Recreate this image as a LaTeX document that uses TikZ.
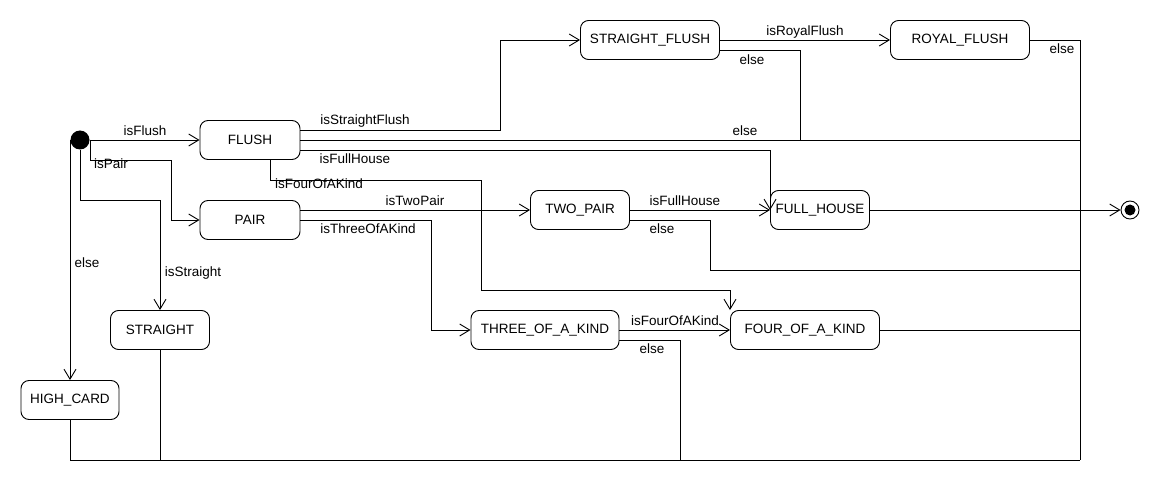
\documentclass[tikz,border=0pt]{standalone}
\usepackage{fontspec}
\setmainfont{Liberation Sans}
\usetikzlibrary{arrows.meta,calc}
\begin{document}
\begin{tikzpicture}[x=1pt,y=-1pt,
  every node/.style={font=\fontsize{13.5}{16}\selectfont},
  state/.style={draw,rounded corners=8pt,minimum height=39pt,inner sep=0pt,line width=0.9pt},
  lbl/.style={inner sep=0pt},
  conn/.style={line width=0.9pt},
  arr/.style={conn,-{Straight Barb[length=10pt,width=12pt,line width=0.9pt]}}]
\useasboundingbox (0,0) rectangle (1160,500);
\fill[white] (0,0) rectangle (1160,500);
% states
\node[circle,fill=black,minimum size=19pt,inner sep=0pt] (init) at (80,140) {};
\node[state,minimum width=100pt] (flush) at (250,140) {FLUSH};
\node[state,minimum width=100pt] (pair) at (250,220) {PAIR};
\node[state,minimum width=139pt] (sflush) at (650,40) {STRAIGHT\_FLUSH};
\node[state,minimum width=139pt] (royal) at (960,40) {ROYAL\_FLUSH};
\node[state,minimum width=99pt] (twopair) at (580,210) {TWO\_PAIR};
\node[state,minimum width=99pt] (fullhouse) at (820,210) {FULL\_HOUSE};
\node[state,minimum width=148pt] (three) at (545,330) {THREE\_OF\_A\_KIND};
\node[state,minimum width=149pt] (four) at (805,330) {FOUR\_OF\_A\_KIND};
\node[state,minimum width=99pt] (straight) at (160,330) {STRAIGHT};
\node[state,minimum width=98pt] (high) at (70,400) {HIGH\_CARD};
\node[circle,draw,line width=0.9pt,minimum size=18pt,inner sep=0pt] (final) at (1130,210) {};
\fill (final.center) circle (5.5pt);
% junction coordinates
\coordinate (busTop) at (1080,40);
\coordinate (busBot) at (1080,460);
\coordinate (busFlush) at (1080,140);
\coordinate (busTP) at (1080,270);
\coordinate (busFour) at (1080,330);
\coordinate (jSF) at (800,140);
\coordinate (jThree) at (680,460);
\coordinate (jStraight) at (160,460);
% connectors from initial
\draw[arr] (init) -- (flush);
\draw[arr] ([xshift=10pt]init.center) |- (171,160) |- (pair.west);
\draw[arr] (init) -- (80,200) -| (straight.north);
\draw[arr] ([xshift=-10pt]init.center) -- (high.north);
% flush
\draw[arr] ([yshift=10pt]flush.east) -- (500,130) |- (sflush.west);
\draw[conn] (flush.east) -- (busFlush);
\draw[arr] ([yshift=-10pt]flush.east) -| (fullhouse.west);
\draw[arr] ([xshift=20pt]flush.south) |- (481,180) |- (730,290) -- ([xshift=-75pt]four.north);
% pair
\draw[arr] ([yshift=10pt]pair.east) -- (twopair.west);
\draw[arr] (pair.east) -- (431,220) |- (three.west);
% two pair
\draw[arr] (twopair) -- (fullhouse);
\draw[conn] ([yshift=-10pt]twopair.east) -- (710,220) |- (busTP);
% straight flush
\draw[arr] (sflush) -- (royal);
\draw[conn] ([yshift=-10pt]sflush.east) -| (jSF);
% royal flush and bus
\draw[conn] (royal.east) -| (busBot);
% full house
\draw[arr] (fullhouse) -- (final);
% three / four
\draw[arr] (three) -- (four);
\draw[conn] ([yshift=-10pt]three.east) -| (jThree);
\draw[conn] (four.east) -- (busFour);
% bottom
\draw[conn] (straight.south) -- (jStraight);
\draw[conn] (high.south) |- (busBot);
% labels
\node[lbl] (l1) at (145,131) {isFlush};
\node[lbl] (l2) at (111,164) {isPair};
\node[lbl] (l3) at (193,273) {isStraight};
\node[lbl] (l4) at (87,263) {else};
\node[lbl] (l5) at (365,121) {isStraightFlush};
\node[lbl] (l6) at (745,131) {else};
\node[lbl] (l7) at (752,60) {else};
\node[lbl] (l8) at (805,32) {isRoyalFlush};
\node[lbl] (l9) at (1062,49) {else};
\node[lbl] (l10) at (355,159) {isFullHouse};
\node[lbl] (l11) at (319,184) {isFourOfAKind};
\node[lbl] (l12) at (415,201) {isTwoPair};
\node[lbl] (l13) at (368,229) {isThreeOfAKind};
\node[lbl] (l14) at (685,201) {isFullHouse};
\node[lbl] (l15) at (662,229) {else};
\node[lbl] (l16) at (675,321) {isFourOfAKind};
\node[lbl] (l17) at (652,349) {else};
\end{tikzpicture}
\end{document}
